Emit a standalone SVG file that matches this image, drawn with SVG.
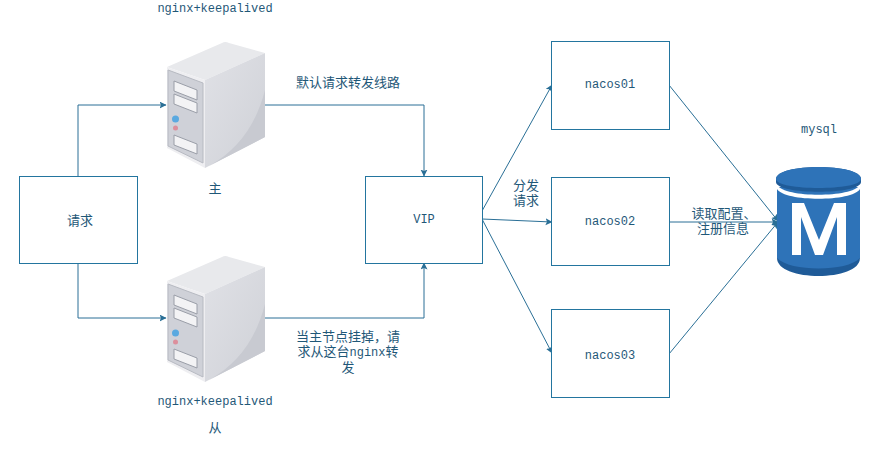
<svg xmlns="http://www.w3.org/2000/svg" width="884" height="449" viewBox="0 0 884 449">
<style>
.box{fill:#fff;stroke:#23759f;stroke-width:1}
.t{font-family:"Liberation Mono","Noto Sans CJK SC",monospace;font-size:12px;fill:#1f5878;text-anchor:middle}
.z{font-size:13px}
.l{font-size:12px}
.c{fill:none;stroke:#2a6f96;stroke-width:1;marker-end:url(#a)}
.slot{fill:#f3f3f5;stroke:#9a9ea8;stroke-width:1}
</style>
<defs>
<marker id="a" markerUnits="userSpaceOnUse" markerWidth="8" markerHeight="8" refX="6.500" refY="3.500" orient="auto"><path d="M0 0L7 3.500L0 7L1.500 3.500Z" fill="#2a6f96"/></marker>
<linearGradient id="side" x1="0" y1="0" x2="1" y2="1"><stop offset="0" stop-color="#e0e1e6"/><stop offset="1" stop-color="#cfd1d7"/></linearGradient>
<g id="server">
<path d="M167 67L222 43Q225 41 229 43L265 53L205 80Z" fill="#e8e9ec"/>
<path d="M205 80L265 53V137L205 168Z" fill="url(#side)"/>
<path d="M209 166C238 150 256 125 265 90V137Z" fill="#c8cad1"/>
<path d="M167 67L205 80V168L167 148Z" fill="#eeeef1"/>
<path d="M168 70L203 83V163L168 146Z" fill="#cfd1d8" stroke="#b7bac2"/>
<path class="slot" d="M174 81L197 90V100L174 91Z"/>
<path class="slot" d="M174 94L197 103V113L174 104Z"/>
<path class="slot" d="M174 135L197 144V154L174 145Z"/>
<circle cx="175.500" cy="119" r="3.500" fill="#5aa9e0"/>
<circle cx="175.500" cy="128" r="2.500" fill="#dc8f9c"/>
</g>
</defs>
<rect width="884" height="449" fill="#fff"/>
<g id="connectors">
<path class="c" d="M78 176V105H166"/>
<path class="c" d="M78 263V318H166"/>
<path class="c" d="M265 105H424V176"/>
<path class="c" d="M265 318H424V263"/>
<path class="c" d="M482 211L552 85"/>
<path class="c" d="M482 219L552 222"/>
<path class="c" d="M482 219L552 353"/>
<path class="c" d="M669 85L778 221"/>
<path class="c" d="M669 222H778"/>
<path class="c" d="M669 354L778 222"/>
</g>
<g id="req"><rect class="box" x="19.500" y="176.500" width="118" height="87"/><text class="t z" x="80" y="225">请求</text></g>
<g id="master"><use href="#server"/><text class="t" x="215" y="12">nginx+keepalived</text><text class="t z" x="215" y="193">主</text></g>
<g id="slave"><use href="#server" y="214"/><text class="t" x="215" y="405">nginx+keepalived</text><text class="t z" x="215" y="432">从</text></g>
<g id="vip"><rect class="box" x="365.500" y="176.500" width="117" height="87"/><text class="t" x="424" y="223">VIP</text></g>
<g id="nacos01"><rect class="box" x="551.500" y="41.500" width="118" height="88"/><text class="t" x="610" y="88">nacos01</text></g>
<g id="nacos02"><rect class="box" x="551.500" y="177.500" width="118" height="88"/><text class="t" x="610" y="225">nacos02</text></g>
<g id="nacos03"><rect class="box" x="551.500" y="309.500" width="118" height="88"/><text class="t" x="610" y="359">nacos03</text></g>
<g id="mysql">
<path d="M777 245V258C777 282 860 282 860 258V245Z" fill="#1f5b98"/>
<path d="M777 187V258C790 272 847 272 860 258V187Z" fill="#2e73b8"/>
<path d="M777 185C785 198 852 198 860 185V189C852 202 785 202 777 189Z" fill="#fff"/>
<path d="M776 179C776 163 861 163 861 179V182C861 195 776 195 776 182Z" fill="#1f5b98"/>
<path d="M776 179C776 163 861 163 861 179C861 191 776 191 776 179Z" fill="#2e73b8"/>
<path d="M792 255V203H804L819 240L834 203H846V255H837V217L823 255H815L801 217V255Z" fill="#fff"/>
<text class="t" x="819" y="133">mysql</text>
</g>
<g id="labels">
<text class="t z" x="348" y="87">默认请求转发线路</text>
<text class="t z" x="526" y="190">分发</text>
<text class="t z" x="526" y="205">请求</text>
<text class="t z" x="724" y="218">读取配置、</text>
<text class="t z" x="723" y="233">注册信息</text>
<text class="t z" x="348" y="341">当主节点挂掉，请</text>
<text class="t z" x="348" y="356">求从这台<tspan class="l">nginx</tspan>转</text>
<text class="t z" x="348" y="372">发</text>
</g>
</svg>
